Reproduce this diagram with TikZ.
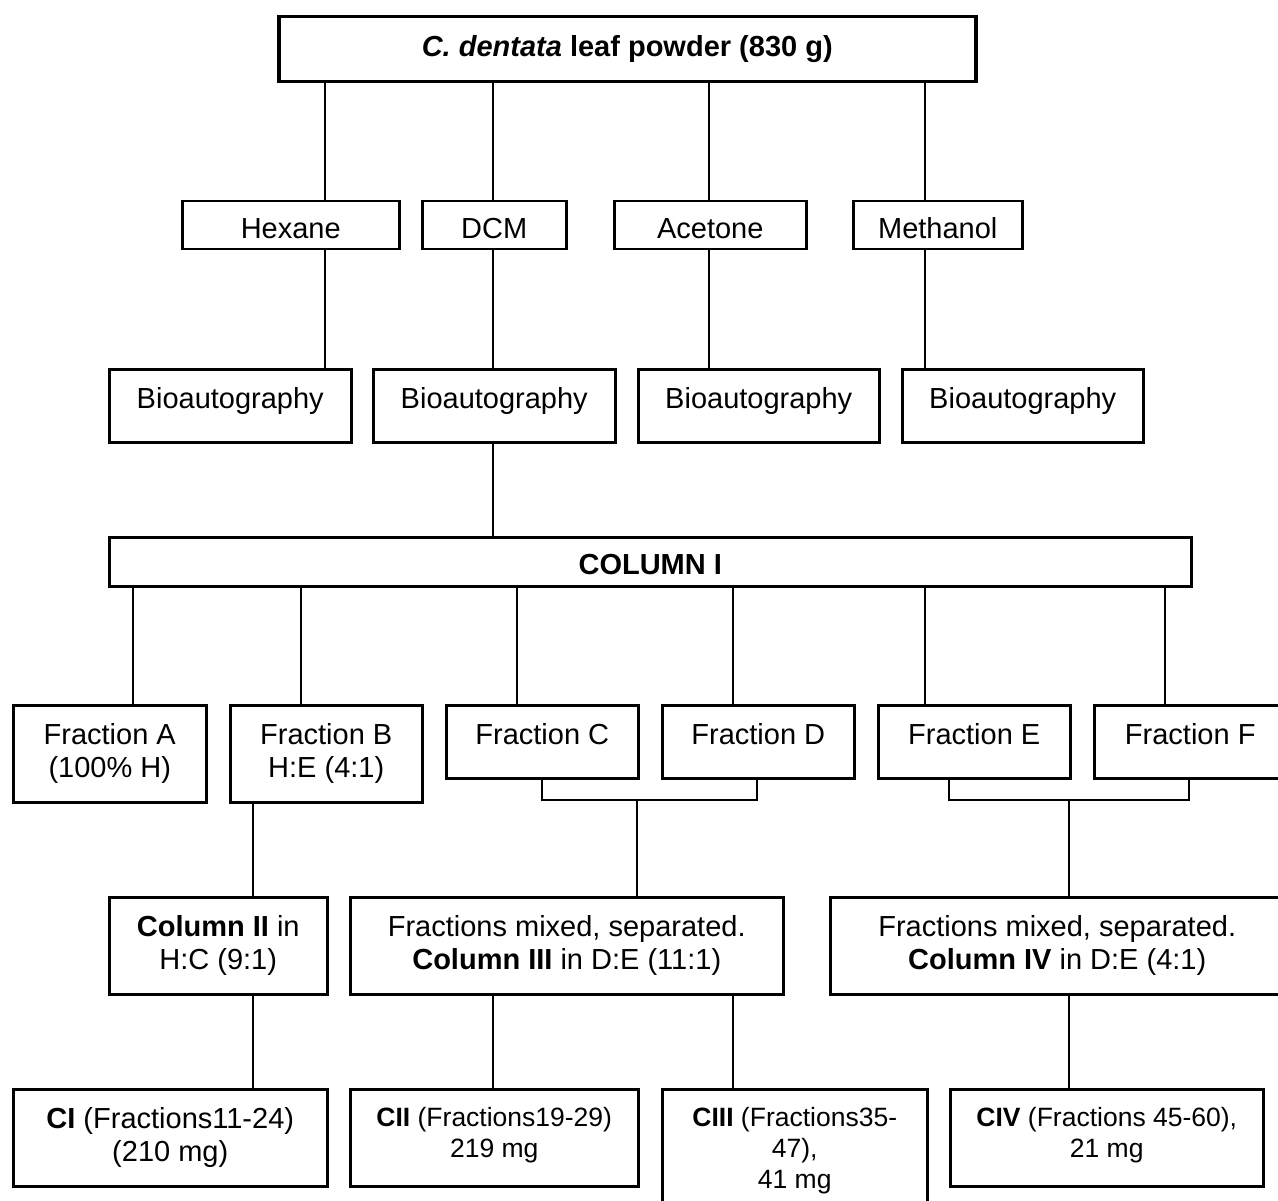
\documentclass[tikz,border=0pt]{standalone}
\usepackage{fontspec}
\setmainfont{Liberation Sans}
\newcommand\bt[4]{\parbox[c][#1][t]{#2}{\centering\rule{0pt}{#3}#4}}
\newcommand\smallfs{\fontsize{26.5}{31}\selectfont}
\begin{document}
\begin{tikzpicture}[x=1pt,y=-1pt,
  bx/.style={draw, line width=2.5pt, inner sep=0pt, anchor=north west, font=\fontsize{29}{33.5}\selectfont},
  topbx/.style={bx, line width=3.5pt},
  ln/.style={line width=1.5pt}]
\useasboundingbox (0,0) rectangle (1278,1201);
% top
\node[topbx] (top) at (277,15) {\bt{65pt}{697pt}{40pt}{\textbf{\textit{C. dentata} leaf powder (830 g)}}};
% solvents
\node[bx] (hex) at (181,200) {\bt{48pt}{217pt}{37pt}{Hexane}};
\node[bx] (dcm) at (421,200) {\bt{48pt}{144pt}{37pt}{DCM}};
\node[bx] (ace) at (613,200) {\bt{48pt}{192pt}{37pt}{Acetone}};
\node[bx] (met) at (852,200) {\bt{48pt}{169pt}{37pt}{Methanol}};
% bioautography
\node[bx] (bio1) at (108,368) {\bt{73pt}{242pt}{39pt}{Bioautography}};
\node[bx] (bio2) at (372,368) {\bt{73pt}{242pt}{39pt}{Bioautography}};
\node[bx] (bio3) at (637,368) {\bt{73pt}{241pt}{39pt}{Bioautography}};
\node[bx] (bio4) at (901,368) {\bt{73pt}{241pt}{39pt}{Bioautography}};
% column I
\node[bx] (col1) at (108,536) {\bt{49pt}{1082pt}{37pt}{\textbf{COLUMN I}}};
% fractions
\node[bx] (frA) at (12,704) {\bt{97pt}{193pt}{39pt}{Fraction A\\(100\% H)}};
\node[bx] (frB) at (229,704) {\bt{97pt}{192pt}{39pt}{Fraction B\\H:E (4:1)}};
\node[bx] (frC) at (445,704) {\bt{73pt}{192pt}{39pt}{Fraction C}};
\node[bx] (frD) at (661,704) {\bt{73pt}{192pt}{39pt}{Fraction D}};
\node[bx] (frE) at (877,704) {\bt{73pt}{192pt}{39pt}{Fraction E}};
\node[bx] (frF) at (1093,704) {\bt{73pt}{192pt}{39pt}{Fraction F}};
% columns II-IV
\node[bx] (col2) at (108,896) {\bt{97pt}{218pt}{39pt}{\textbf{Column II} in\\H:C (9:1)}};
\node[bx] (col3) at (349,896) {\bt{97pt}{433pt}{39pt}{Fractions mixed, separated.\\\textbf{Column III} in D:E (11:1)}};
\node[bx] (col4) at (829,896) {\bt{97pt}{454pt}{39pt}{Fractions mixed, separated.\\\textbf{Column IV} in D:E (4:1)}};
% results
\node[bx] (c1) at (12,1088) {\bt{97pt}{314pt}{39pt}{\textbf{CI} (Fractions11-24)\\(210 mg)}};
\node[bx] (c2) at (349,1088) {\bt{97pt}{288pt}{37pt}{\smallfs\textbf{CII} (Fractions19-29)\\219 mg}};
\node[bx] (c3) at (661,1088) {\bt{125pt}{265pt}{37pt}{\smallfs\textbf{CIII} (Fractions35-\\47),\\41 mg}};
\node[bx] (c4) at (949,1088) {\bt{97pt}{313pt}{37pt}{\smallfs\textbf{CIV} (Fractions 45-60),\\21 mg}};
% x positions of connectors
\coordinate (xh) at (325,0);
\coordinate (xd) at (493,0);
\coordinate (xa) at (709,0);
\coordinate (xm) at (925,0);
\coordinate (fa) at (133,0);
\coordinate (fb) at (301,0);
\coordinate (fc) at (517,0);
\coordinate (fd) at (733,0);
\coordinate (fe) at (925,0);
\coordinate (ff) at (1165,0);
\coordinate (xb) at (253,0);
\coordinate (cc) at (542,0);
\coordinate (cd) at (757,0);
\coordinate (ce) at (949,0);
\coordinate (cf) at (1189,0);
\coordinate (j1) at (637,800);
\coordinate (j2) at (1069,800);
% connectors
\draw[ln] (top.south -| xh) -- (hex.north -| xh);
\draw[ln] (top.south -| xd) -- (dcm.north -| xd);
\draw[ln] (top.south -| xa) -- (ace.north -| xa);
\draw[ln] (top.south -| xm) -- (met.north -| xm);
\draw[ln] (hex.south -| xh) -- (bio1.north -| xh);
\draw[ln] (dcm.south -| xd) -- (bio2.north -| xd);
\draw[ln] (ace.south -| xa) -- (bio3.north -| xa);
\draw[ln] (met.south -| xm) -- (bio4.north -| xm);
\draw[ln] (bio2.south -| xd) -- (col1.north -| xd);
\draw[ln] (col1.south -| fa) -- (frA.north -| fa);
\draw[ln] (col1.south -| fb) -- (frB.north -| fb);
\draw[ln] (col1.south -| fc) -- (frC.north -| fc);
\draw[ln] (col1.south -| fd) -- (frD.north -| fd);
\draw[ln] (col1.south -| fe) -- (frE.north -| fe);
\draw[ln] (col1.south -| ff) -- (frF.north -| ff);
\draw[ln] (frB.south -| xb) -- (col2.north -| xb);
\draw[ln] (frC.south -| cc) |- (j1) -| (frD.south -| cd);
\draw[ln] (j1) -- (col3.north -| j1);
\draw[ln] (frE.south -| ce) |- (j2) -| (frF.south -| cf);
\draw[ln] (j2) -- (col4.north -| j2);
\draw[ln] (col2.south -| xb) -- (c1.north -| xb);
\draw[ln] (col3.south -| xd) -- (c2.north -| xd);
\draw[ln] (col3.south -| fd) -- (c3.north -| fd);
\draw[ln] (col4.south -| j2) -- (c4.north -| j2);
\end{tikzpicture}
\end{document}
